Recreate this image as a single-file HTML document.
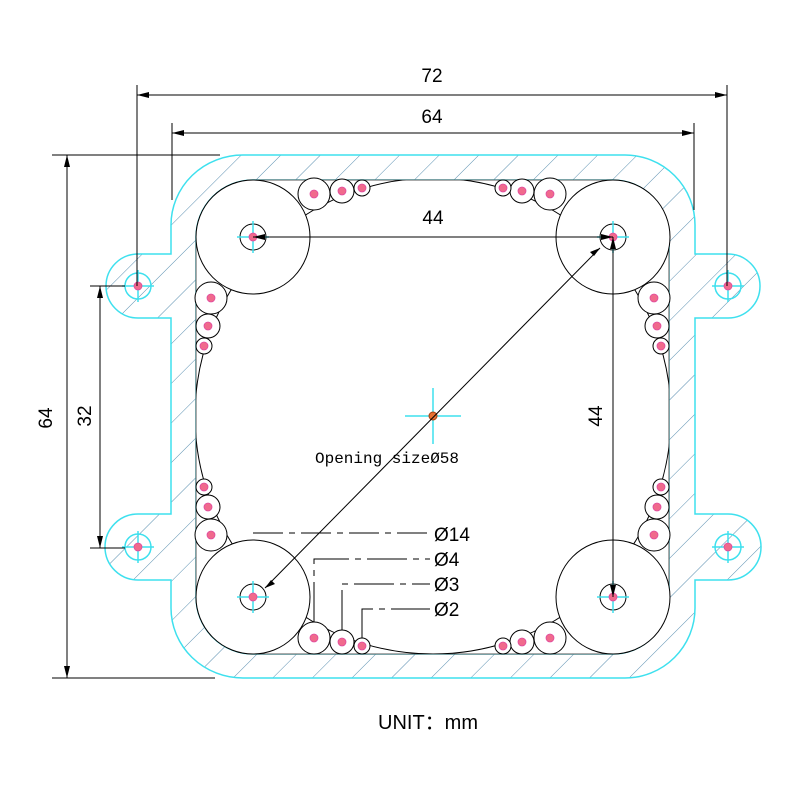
<!DOCTYPE html>
<html><head><meta charset="utf-8"><style>html,body{margin:0;padding:0;background:#fff}svg{display:block}</style></head>
<body>
<svg width="800" height="800" viewBox="0 0 800 800" xmlns="http://www.w3.org/2000/svg" font-family="Liberation Sans, sans-serif">
<defs>
<pattern id="h" patternUnits="userSpaceOnUse" width="28" height="28" patternTransform="rotate(45)">
<line x1="0" y1="0" x2="0" y2="28" stroke="#5a8fb0" stroke-width="1"/>
</pattern>
<clipPath id="sq"><rect x="196" y="180" width="473" height="474"/></clipPath>
</defs>
<path fill="url(#h)" fill-rule="evenodd" stroke="#3ee0ee" stroke-width="1.5"
d="M243,155 H625 A70,70 0 0 1 695,225 V254 H728 A32,32 0 0 1 728,318 H695 V514 H728 A33,33 0 0 1 728,580 H695 V608 A70,70 0 0 1 625,678 H243 A72,70 0 0 1 171,608 V580 H138 A33,33 0 0 1 138,514 H171 V318 H138 A32,32 0 0 1 138,254 H171 V225 A72,70 0 0 1 243,155 Z
M253,180 H613 A56,57 0 0 1 669,237 V597 A56,57 0 0 1 613,654 H253 A57,57 0 0 1 196,597 V237 A57,57 0 0 1 253,180 Z"/>
<path fill="#fff" stroke="#555" stroke-width="1" d="M253,180 H613 A56,57 0 0 1 669,237 V597 A56,57 0 0 1 613,654 H253 A57,57 0 0 1 196,597 V237 A57,57 0 0 1 253,180 Z"/>
<circle cx="433" cy="416" r="238" fill="none" stroke="#000" stroke-width="1" clip-path="url(#sq)"/>
<g fill="#fff" stroke="#000" stroke-width="1">
<circle cx="253" cy="237" r="57"/><circle cx="613" cy="237" r="57"/>
<circle cx="253" cy="597" r="57"/><circle cx="613" cy="597" r="57"/>
<circle cx="314" cy="194" r="16"/><circle cx="342" cy="191" r="12"/><circle cx="362" cy="188" r="8"/>
<circle cx="550" cy="194" r="16"/><circle cx="522" cy="191" r="12"/><circle cx="503" cy="188" r="8"/>
<circle cx="314" cy="638" r="16"/><circle cx="342" cy="642" r="12"/><circle cx="362" cy="646" r="8"/>
<circle cx="550" cy="638" r="16"/><circle cx="522" cy="642" r="12"/><circle cx="503" cy="646" r="8"/>
<circle cx="211" cy="298" r="16"/><circle cx="208" cy="326" r="12"/><circle cx="204" cy="346" r="8"/>
<circle cx="211" cy="535" r="16"/><circle cx="208" cy="507" r="12"/><circle cx="204" cy="487" r="8"/>
<circle cx="654" cy="298" r="16"/><circle cx="657" cy="326" r="12"/><circle cx="661" cy="346" r="8"/>
<circle cx="654" cy="535" r="16"/><circle cx="657" cy="507" r="12"/><circle cx="661" cy="487" r="8"/>
<circle cx="253" cy="237" r="13"/><circle cx="613" cy="237" r="13"/><circle cx="253" cy="597" r="13"/><circle cx="613" cy="597" r="13"/>
</g>
<g stroke="#3ee0ee" stroke-width="1.5" fill="none">
<circle cx="138" cy="286" r="13"/><circle cx="728" cy="286" r="13"/><circle cx="138" cy="547" r="13"/><circle cx="728" cy="547" r="13"/>
<path d="M122,286h32M138,270v32M712,286h32M728,270v32M122,547h32M138,531v32M712,547h32M728,531v32
M237,237h32M253,221v32M597,237h32M613,221v32M237,597h32M253,581v32M597,597h32M613,581v32M405,416h56M433,388v56"/>
</g>
<g fill="#f06a8c" stroke="#e04aa0" stroke-width="0.8">
<circle cx="138" cy="286" r="4"/><circle cx="728" cy="286" r="4"/><circle cx="138" cy="547" r="4"/><circle cx="728" cy="547" r="4"/>
<circle cx="253" cy="237" r="4"/><circle cx="613" cy="237" r="4"/><circle cx="253" cy="597" r="4"/><circle cx="613" cy="597" r="4"/>
<circle cx="314" cy="194" r="4"/><circle cx="342" cy="191" r="4"/><circle cx="362" cy="188" r="4"/>
<circle cx="550" cy="194" r="4"/><circle cx="522" cy="191" r="4"/><circle cx="503" cy="188" r="4"/>
<circle cx="314" cy="638" r="4"/><circle cx="342" cy="642" r="4"/><circle cx="362" cy="646" r="4"/>
<circle cx="550" cy="638" r="4"/><circle cx="522" cy="642" r="4"/><circle cx="503" cy="646" r="4"/>
<circle cx="211" cy="298" r="4"/><circle cx="208" cy="326" r="4"/><circle cx="204" cy="346" r="4"/>
<circle cx="211" cy="535" r="4"/><circle cx="208" cy="507" r="4"/><circle cx="204" cy="487" r="4"/>
<circle cx="654" cy="298" r="4"/><circle cx="657" cy="326" r="4"/><circle cx="661" cy="346" r="4"/>
<circle cx="654" cy="535" r="4"/><circle cx="657" cy="507" r="4"/><circle cx="661" cy="487" r="4"/>
</g>
<circle cx="433" cy="416" r="4" fill="#e87030" stroke="#a04010"/>
<g stroke="#000" stroke-width="1" fill="none">
<path d="M137,85V286M727,85V286M172,123V200M694,123V210M52,155H220M52,678H215M90,286H125M90,548H125"/>
<path d="M137,95H727M172,133H694M67,155V678M100,286V548M253,237H613M613,237V597"/>
<path d="M600,248L265,588"/>
<path d="M253,533H430" stroke-dasharray="30,6,6,6"/>
<path d="M314,622V559H430M342,630V584H430M362,638V609H430" stroke-dasharray="40,6,6,6"/>
</g>
<g fill="#000">
<path d="M137,95l12,-3v6zM727,95l-12,-3v6zM172,133l12,-3v6zM694,133l-12,-3v6z"/>
<path d="M67,155l-3,12h6zM67,678l-3,-12h6zM100,286l-3,12h6zM100,548l-3,-12h6z"/>
<path d="M253,237l12,-3v6zM613,237l-12,-3v6zM613,237l-3,12h6zM613,597l-3,-12h6z"/>
<path d="M600,248l-10,4l4,4zM265,588l10,-4l-4,-4z"/>
</g>
<g fill="#000" font-size="19">
<text x="432" y="82" text-anchor="middle">72</text>
<text x="432" y="123" text-anchor="middle">64</text>
<text x="433" y="224" text-anchor="middle">44</text>
<text transform="translate(52,418) rotate(-90)" text-anchor="middle">64</text>
<text transform="translate(91,416) rotate(-90)" text-anchor="middle">32</text>
<text transform="translate(602,416) rotate(-90)" text-anchor="middle">44</text>
<text x="434" y="541">Ø14</text><text x="434" y="566">Ø4</text><text x="434" y="591">Ø3</text><text x="434" y="616">Ø2</text>
<text x="387" y="463" font-family="Liberation Mono, monospace" font-size="16" text-anchor="middle">Opening sizeØ58</text>
<text x="428" y="729" text-anchor="middle" font-size="20">UNIT：mm</text>
</g>
</svg>
</body></html>
